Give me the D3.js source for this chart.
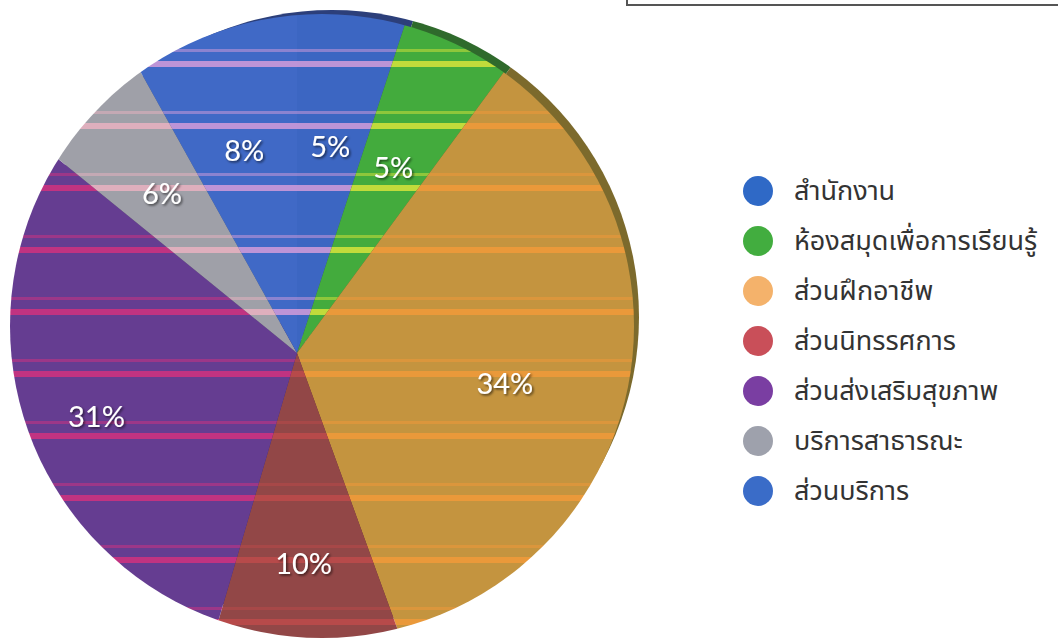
<!DOCTYPE html>
<html>
<head>
<meta charset="utf-8">
<script src="https://cdn.jsdelivr.net/npm/d3@7"></script>
<style>
  body { margin: 0; background: #fff; }
  svg { display: block; }
</style>
</head>
<body>
<svg width="1058" height="638"></svg>
<script>
// Slice data, clockwise from 12 o'clock
const categories = ['สำนักงาน', 'ห้องสมุดเพื่อการเรียนรู้', 'ส่วนฝึกอาชีพ', 'ส่วนนิทรรศการ', 'ส่วนส่งเสริมสุขภาพ', 'บริการสาธารณะ', 'ส่วนบริการ'];
const values = [5, 5, 34, 10, 31, 6, 8];
const pctLabels = ['5%', '5%', '34%', '10%', '31%', '6%', '8%'];

// Colours (face of pie, rim, legend dots, scan stripes)
const sliceColors = ['#3c66c2', '#43ab3d', '#c4943f', '#924747', '#653d91', '#9fa0a8', '#4069c6'];
const rimColors = ['#2c3f7a', '#2f6a2c', '#7c6a2c', '#5e2e2e', '#40285e', '#66676c', '#2c3f7a'];
const legendColors = ['#2f69c6', '#42ad3f', '#f4b26b', '#c94f59', '#7a3ea2', '#9ea1ac', '#3a6cc8'];
const stripeColors = ['#e6a2dc', '#eaea3a', '#f79a38', '#c24a4a', '#e0307c', '#f2b4c4', '#e6a2dc'];

// Geometry
const width = 1058, height = 638;
const vx = 297, vy = 353;          // point where the slices meet
const face = { cx: 322, cy: 326, r: 312 };
const rim = { dx: 10, dy: -9, r: 307 };
const labelRadius = 210;
const stripeStart = 49, stripePeriod = 62;

const svg = d3.select('svg');
const defs = svg.append('defs');

const pie = d3.pie().sort(null).value(d => d);
const arcs = pie(values);
const arc = d3.arc().innerRadius(0).outerRadius(800);
const labelArc = d3.arc().innerRadius(labelRadius).outerRadius(labelRadius);

// Striped fills to mimic the scanned look
arcs.forEach((a, i) => {
    const p = defs.append('pattern')
        .attr('id', `stripe-${i}`)
        .attr('patternUnits', 'userSpaceOnUse')
        .attr('x', -vx)
        .attr('y', stripeStart - vy)
        .attr('width', width)
        .attr('height', stripePeriod);
    p.append('rect').attr('width', width).attr('height', stripePeriod).attr('fill', sliceColors[i]);
    p.append('rect').attr('y', 0).attr('width', width).attr('height', 3)
        .attr('fill', stripeColors[i]).attr('opacity', 0.45);
    p.append('rect').attr('y', 12).attr('width', width).attr('height', 6)
        .attr('fill', stripeColors[i]).attr('opacity', 0.75);
});

defs.append('clipPath').attr('id', 'clip-face')
    .append('circle').attr('cx', face.cx).attr('cy', face.cy).attr('r', face.r);
defs.append('clipPath').attr('id', 'clip-rim')
    .append('circle').attr('cx', face.cx + rim.dx).attr('cy', face.cy + rim.dy).attr('r', rim.r);

const shadow = defs.append('filter').attr('id', 'txt-shadow')
    .attr('x', '-20%').attr('y', '-20%').attr('width', '140%').attr('height', '140%');
shadow.append('feDropShadow')
    .attr('dx', 1.5).attr('dy', 1.5).attr('stdDeviation', 1.2)
    .attr('flood-color', '#000').attr('flood-opacity', 0.6);

// Rim (back layer, shifted up-right)
svg.append('g').attr('clip-path', 'url(#clip-rim)')
    .append('g').attr('transform', `translate(${vx + rim.dx}, ${vy + rim.dy})`)
    .selectAll('path').data(arcs).join('path')
    .attr('d', arc)
    .attr('fill', (d, i) => rimColors[i]);

// Face
svg.append('g').attr('clip-path', 'url(#clip-face)')
    .append('g').attr('transform', `translate(${vx}, ${vy})`)
    .selectAll('path').data(arcs).join('path')
    .attr('d', arc)
    .attr('fill', (d, i) => `url(#stripe-${i})`);

// Percent labels
svg.append('g').attr('transform', `translate(${vx}, ${vy})`)
    .selectAll('text').data(arcs).join('text')
    .attr('transform', d => `translate(${labelArc.centroid(d)})`)
    .attr('text-anchor', 'middle')
    .attr('dominant-baseline', 'central')
    .attr('font-family', 'Lato, "Open Sans", sans-serif')
    .attr('font-size', 29)
    .attr('fill', '#fff')
    .attr('filter', 'url(#txt-shadow)')
    .text((d, i) => pctLabels[i]);

// Legend
const legendY = d3.scalePoint().domain(categories).range([191, 491]);
const legend = svg.append('g').selectAll('g').data(categories).join('g')
    .attr('transform', d => `translate(758, ${legendY(d)})`);
legend.append('circle').attr('r', 15).attr('fill', (d, i) => legendColors[i]);
legend.append('text')
    .attr('x', 36)
    .attr('dominant-baseline', 'central')
    .attr('font-family', 'Tahoma, "Noto Sans Thai", "DejaVu Sans", sans-serif')
    .attr('font-size', 27)
    .attr('fill', '#333')
    .text(d => d);

// Bottom edge of the box above the legend
svg.append('rect')
    .attr('x', 627).attr('y', -20)
    .attr('width', 470).attr('height', 25)
    .attr('fill', 'none')
    .attr('stroke', '#555')
    .attr('stroke-width', 2);
</script>
</body>
</html>
